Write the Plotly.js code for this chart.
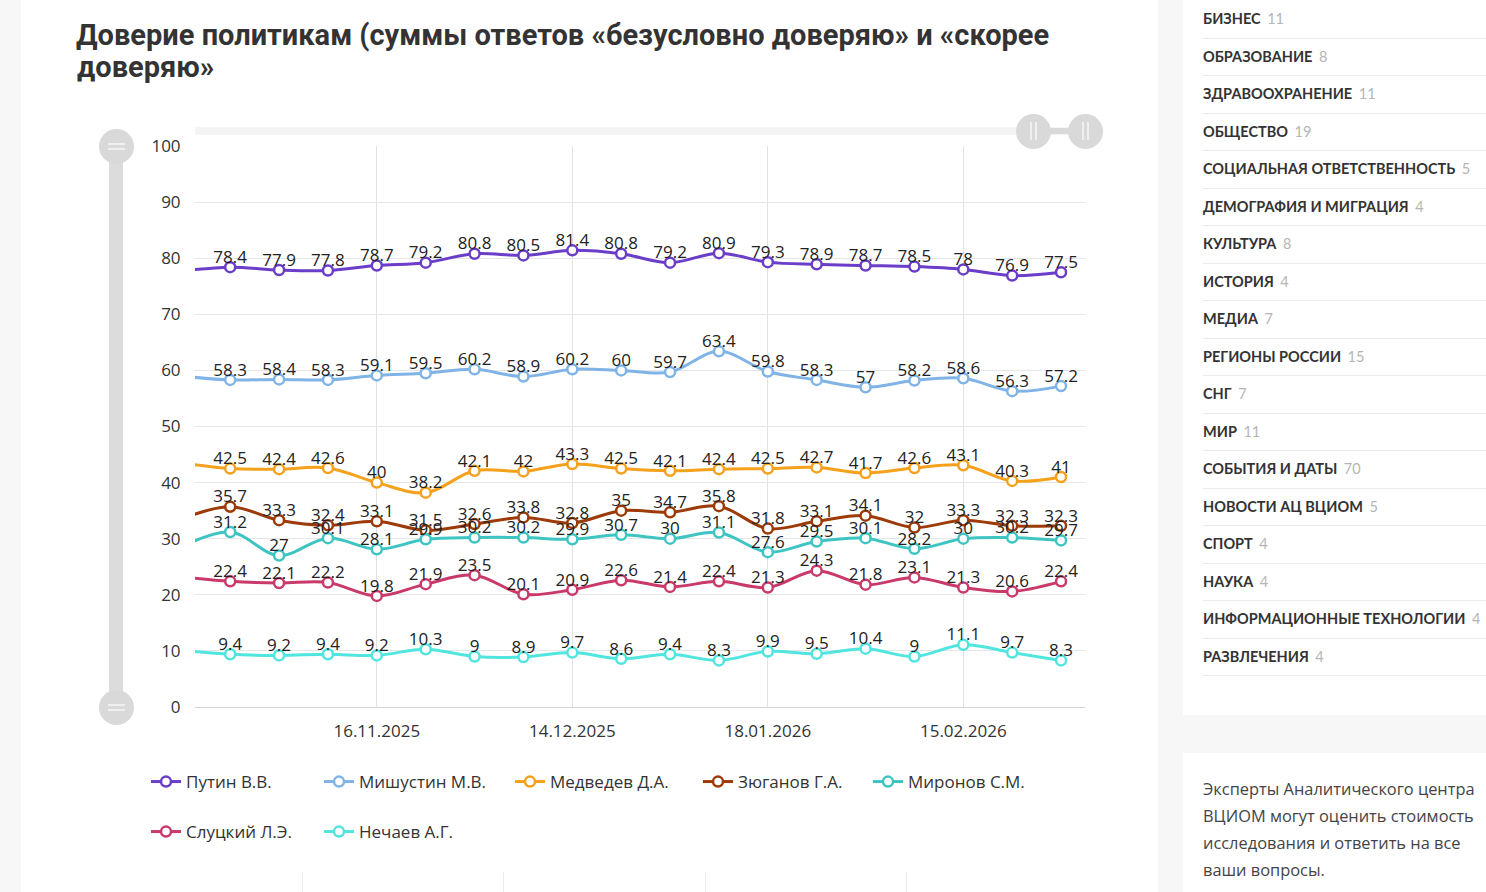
<!DOCTYPE html>
<html>
<head>
<meta charset="utf-8">
<script src="https://cdn.plot.ly/plotly-3.0.1.min.js"></script>
<style>
  html, body { margin:0; padding:0; }
  body { width:1486px; height:892px; background:#f7f7f7; position:relative; overflow:hidden; font-family:"Open Sans", sans-serif; }
  .panel { position:absolute; background:#fff; }
  #chart { position:absolute; left:0; top:0; width:1160px; height:892px; }
  .side-item { position:absolute; left:1203px; width:283px; height:37.5px; line-height:37.5px; font-family:Lato, "Open Sans", sans-serif; font-weight:700; font-size:14.5px; color:#333; white-space:nowrap; }
  .side-item span { font-weight:400; color:#b5b5b5; margin-left:3px; }
  .sep { position:absolute; left:1203px; width:283px; height:1px; background:#ebebeb; }
  .gl { position:absolute; width:1px; background:#ececec; top:872px; height:20px; }
  .deco { position:absolute; }
</style>
</head>
<body>
<div class="panel" style="left:21px; top:0; width:1137px; height:892px;"></div>
<div class="panel" style="left:1183px; top:0; width:303px; height:715px;"></div>
<div class="panel" style="left:1183px; top:753px; width:303px; height:139px;"></div>
<div class="gl" style="left:302px"></div>
<div class="gl" style="left:503px"></div>
<div class="gl" style="left:705px"></div>
<div class="gl" style="left:906px"></div>

<!-- zoom slider decorations -->
<div class="deco" style="left:195px; top:127px; width:890px; height:8px; background:#f4f4f4;"></div>
<div class="deco" style="left:1040px; top:128px; width:40px; height:6px; background:#d9d9d9;"></div>
<div class="deco" style="left:1016px; top:114px; width:35px; height:35px; border-radius:50%; background:#d9d9d9;"></div>
<div class="deco" style="left:1030px; top:122px; width:2px; height:18px; background:#efefef;"></div>
<div class="deco" style="left:1035px; top:122px; width:2px; height:18px; background:#efefef;"></div>
<div class="deco" style="left:1068px; top:114px; width:35px; height:35px; border-radius:50%; background:#d9d9d9;"></div>
<div class="deco" style="left:1082px; top:122px; width:2px; height:18px; background:#efefef;"></div>
<div class="deco" style="left:1087px; top:122px; width:2px; height:18px; background:#efefef;"></div>

<div class="deco" style="left:109px; top:150px; width:14px; height:555px; background:#dcdcdc;"></div>
<div class="deco" style="left:99px; top:129px; width:35px; height:35px; border-radius:50%; background:#d9d9d9;"></div>
<div class="deco" style="left:108px; top:143px; width:17px; height:2px; background:#efefef;"></div>
<div class="deco" style="left:108px; top:148px; width:17px; height:2px; background:#efefef;"></div>
<div class="deco" style="left:99px; top:690px; width:35px; height:35px; border-radius:50%; background:#d9d9d9;"></div>
<div class="deco" style="left:108px; top:704px; width:17px; height:2px; background:#efefef;"></div>
<div class="deco" style="left:108px; top:709px; width:17px; height:2px; background:#efefef;"></div>

<div id="chart"></div>
<div id="side"></div>
<div style="position:absolute; left:1203px; top:775px; width:283px; font-family:'Open Sans', sans-serif; font-size:16.4px; line-height:27px; color:#444;">Эксперты Аналитического центра<br>ВЦИОМ могут оценить стоимость<br>исследования и ответить на все<br>ваши вопросы.</div>

<script>
// ---- data ----
const dates = ['19.10.2025','26.10.2025','02.11.2025','09.11.2025','16.11.2025','23.11.2025','30.11.2025','07.12.2025','14.12.2025','21.12.2025','28.12.2025','11.01.2026','18.01.2026','25.01.2026','01.02.2026','08.02.2026','15.02.2026','22.02.2026','01.03.2026'];
const tickDates = ['16.11.2025','14.12.2025','18.01.2026','15.02.2026'];
const seriesNames = ['Путин В.В.','Мишустин М.В.','Медведев Д.А.','Зюганов Г.А.','Миронов С.М.','Слуцкий Л.Э.','Нечаев А.Г.'];
const putin     = [77.7,78.4,77.9,77.8,78.7,79.2,80.8,80.5,81.4,80.8,79.2,80.9,79.3,78.9,78.7,78.5,78,76.9,77.5];
const mishustin = [59.0,58.3,58.4,58.3,59.1,59.5,60.2,58.9,60.2,60,59.7,63.4,59.8,58.3,57,58.2,58.6,56.3,57.2];
const medvedev  = [43.5,42.5,42.4,42.6,40,38.2,42.1,42,43.3,42.5,42.1,42.4,42.5,42.7,41.7,42.6,43.1,40.3,41];
const zyuganov  = [33.5,35.7,33.3,32.4,33.1,31.5,32.6,33.8,32.8,35,34.7,35.8,31.8,33.1,34.1,32,33.3,32.3,32.3];
const mironov   = [28.5,31.2,27,30.1,28.1,29.9,30.2,30.2,29.9,30.7,30,31.1,27.6,29.5,30.1,28.2,30,30.2,29.7];
const slutsky   = [23.2,22.4,22.1,22.2,19.8,21.9,23.5,20.1,20.9,22.6,21.4,22.4,21.3,24.3,21.8,23.1,21.3,20.6,22.4];
const nechaev   = [10.1,9.4,9.2,9.4,9.2,10.3,9,8.9,9.7,8.6,9.4,8.3,9.9,9.5,10.4,9,11.1,9.7,8.3];
const titleLines = ['Доверие политикам (суммы ответов «безусловно доверяю» и «скорее', 'доверяю»'];
const sideCats   = ['БИЗНЕС','ОБРАЗОВАНИЕ','ЗДРАВООХРАНЕНИЕ','ОБЩЕСТВО','СОЦИАЛЬНАЯ ОТВЕТСТВЕННОСТЬ','ДЕМОГРАФИЯ И МИГРАЦИЯ','КУЛЬТУРА','ИСТОРИЯ','МЕДИА','РЕГИОНЫ РОССИИ','СНГ','МИР','СОБЫТИЯ И ДАТЫ','НОВОСТИ АЦ ВЦИОМ','СПОРТ','НАУКА','ИНФОРМАЦИОННЫЕ ТЕХНОЛОГИИ','РАЗВЛЕЧЕНИЯ'];
const sideCounts = [11,8,11,19,5,4,8,4,7,15,7,11,70,5,4,4,4,4];

// ---- styling ----
const allSeries = [putin, mishustin, medvedev, zyuganov, mironov, slutsky, nechaev];
const colors = ['#6a3ec8','#80b4e6','#f5a11c','#9c3a08','#3ec5c3','#c9396a','#50e5df'];
const FONT = '"Open Sans", "Liberation Sans", sans-serif';
const TFONT = {family: 'Roboto, "Open Sans", sans-serif', size: 29, weight: 700, color: '#333'};

// plot area in px (div 1160x892)
const L = 195, R = 1085, T = 146, B = 707, W = 1160, H = 892;
const px2x = p => (p - L) / (R - L);
const px2y = p => (B - p) / (B - T);
const legendPos = [[146,782],[319,782],[510,782],[698,782],[868,782],[146,832],[319,832]];

const traces = [];
const layout = {
  width: W, height: H,
  margin: {l: L, r: W - R, t: T, b: H - B},
  paper_bgcolor: 'rgba(0,0,0,0)',
  plot_bgcolor: 'rgba(0,0,0,0)',
  showlegend: true,
  title: {
    text: titleLines[0],
    xref: 'container', yref: 'container', x: 76 / W, xanchor: 'left', y: 1 - 35 / H, yanchor: 'middle',
    font: TFONT
  },
  annotations: [{
    text: titleLines[1], xref: 'paper', yref: 'paper',
    x: px2x(75), y: px2y(67), xanchor: 'left', yanchor: 'middle',
    showarrow: false, font: TFONT
  }],
  xaxis: {
    type: 'category', categoryorder: 'array', categoryarray: dates,
    range: [0.28, 18.49],
    tickvals: tickDates, ticktext: tickDates,
    showgrid: true, gridcolor: '#e2e2e2', gridwidth: 1,
    showline: true, linecolor: '#d6d6d6', linewidth: 1,
    zeroline: false,
    ticks: 'outside', ticklen: 9, tickcolor: 'rgba(0,0,0,0)',
    tickfont: {family: FONT, size: 17, color: '#333'},
    fixedrange: true
  },
  yaxis: {
    range: [0, 100], dtick: 10, tick0: 0,
    showgrid: true, gridcolor: '#e6e6e6', gridwidth: 1,
    zeroline: false, showline: false,
    ticks: 'outside', ticklen: 10, tickcolor: 'rgba(0,0,0,0)',
    tickfont: {family: FONT, size: 17, color: '#333'},
    fixedrange: true
  }
};

allSeries.forEach((vals, i) => {
  const lg = i === 0 ? 'legend' : 'legend' + (i + 1);
  traces.push({
    type: 'scatter', mode: 'lines+markers', name: seriesNames[i],
    x: dates, y: vals, legend: lg,
    line: {color: colors[i], width: 3, shape: 'spline', smoothing: 1},
    marker: {symbol: 'circle', size: 10, color: '#fff', line: {color: colors[i], width: 2.5}},
    cliponaxis: true, hoverinfo: 'x+y+name'
  });
  layout[lg] = {
    x: px2x(legendPos[i][0]), y: px2y(legendPos[i][1]), xanchor: 'left', yanchor: 'middle',
    orientation: 'h', bgcolor: 'rgba(0,0,0,0)', borderwidth: 0, itemwidth: 30,
    font: {family: FONT, size: 17, color: '#333'}
  };
});
allSeries.forEach((vals, i) => {
  // the first point lies left of the visible range; its label is clipped away
  traces.push({
    type: 'scatter', mode: 'text', x: dates.slice(1), y: vals.slice(1),
    text: vals.slice(1).map(v => String(v)), textposition: 'top center',
    textfont: {family: FONT, size: 17, color: '#222'},
    showlegend: false, hoverinfo: 'skip', cliponaxis: true
  });
});

Plotly.newPlot('chart', traces, layout, {displayModeBar: false, responsive: false});

// sidebar
const side = document.getElementById('side');
sideCats.forEach((c, i) => {
  const d = document.createElement('div');
  d.className = 'side-item';
  d.style.top = (i * 37.5) + 'px';
  d.innerHTML = c + ' <span>' + sideCounts[i] + '</span>';
  side.appendChild(d);
  const s = document.createElement('div');
  s.className = 'sep';
  s.style.top = ((i + 1) * 37.5) + 'px';
  side.appendChild(s);
});
</script>
</body>
</html>
